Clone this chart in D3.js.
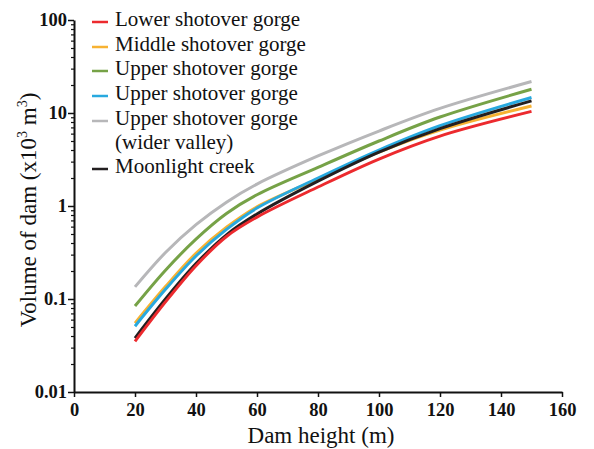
<!DOCTYPE html>
<html>
<head>
<meta charset="utf-8">
<script src="https://cdn.jsdelivr.net/npm/d3@7"></script>
<style>
  html, body { margin: 0; padding: 0; background: #fff; }
  svg { display: block; }
  text { font-family: "Liberation Serif", "Times New Roman", serif; fill: #111; }
</style>
</head>
<body>
<svg id="chart" width="594" height="449"></svg>
<script>
// ---- data ----
const heights = [20, 30, 40, 50, 60, 80, 100, 120, 150];
const seriesNames = [
  "Lower shotover gorge",
  "Middle shotover gorge",
  "Upper shotover gorge",
  "Upper shotover gorge",
  "Upper shotover gorge (wider valley)",
  "Moonlight creek"
];
const lowerShotover   = [0.035, 0.093, 0.228, 0.47, 0.76, 1.6, 3.2, 5.65, 10.4];
const middleShotover  = [0.055, 0.136, 0.31, 0.59, 0.98, 1.95, 3.8, 6.55, 11.9];
const upperShotoverG  = [0.084, 0.204, 0.44, 0.83, 1.32, 2.6, 5.0, 9.05, 18];
const upperShotoverB  = [0.051, 0.127, 0.29, 0.56, 0.95, 2.0, 4.0, 7.3, 14.7];
const upperWider      = [0.135, 0.316, 0.63, 1.1, 1.72, 3.45, 6.4, 11.2, 21.8];
const moonlightCreek  = [0.038, 0.10, 0.24, 0.49, 0.82, 1.85, 3.8, 6.8, 13.5];
const seriesColors = ["#ec2a2e", "#f7b232", "#76a247", "#28a9df", "#b7b7b9", "#231f20"];
const xTicks = [0, 20, 40, 60, 80, 100, 120, 140, 160];
const yTicks = [0.01, 0.1, 1, 10, 100];
const yTickLabels = ["0.01", "0.1", "1", "10", "100"];

const allSeries = [lowerShotover, middleShotover, upperShotoverG, upperShotoverB, upperWider, moonlightCreek];
const drawOrder = [4, 2, 1, 3, 5, 0];

const svg = d3.select("#chart");
const x = d3.scaleLinear().domain([0, 160]).range([74, 562]);
const y = d3.scaleLog().domain([0.01, 100]).range([392, 20]);

// minor y ticks
const minor = [];
for (let e = -2; e < 2; e++) for (let m = 2; m <= 9; m++) minor.push(m * Math.pow(10, e));
svg.append("g").attr("transform", "translate(74,0)")
  .call(d3.axisLeft(y).tickValues(minor).tickSize(3).tickFormat(""))
  .call(g => g.select(".domain").remove())
  .call(g => g.selectAll("line").attr("stroke", "#111").attr("stroke-width", 1.2));

// y axis
svg.append("g").attr("transform", "translate(74,0)")
  .call(d3.axisLeft(y).tickValues(yTicks).tickSize(6).tickSizeOuter(0).tickPadding(1)
        .tickFormat((d, i) => yTickLabels[i]))
  .call(g => g.select(".domain").attr("stroke", "#111").attr("stroke-width", 2))
  .call(g => g.selectAll(".tick line").attr("stroke", "#111").attr("stroke-width", 1.5))
  .call(g => g.selectAll("text").attr("font-family", "Liberation Serif").attr("font-weight", "bold")
        .attr("font-size", 18.5).attr("fill", "#111"));

// x axis
svg.append("g").attr("transform", "translate(0,392)")
  .call(d3.axisBottom(x).tickValues(xTicks).tickSize(5).tickSizeOuter(0).tickPadding(6))
  .call(g => g.select(".domain").attr("stroke", "#111").attr("stroke-width", 2))
  .call(g => g.selectAll(".tick line").attr("stroke", "#111").attr("stroke-width", 1.5))
  .call(g => g.selectAll("text").attr("font-family", "Liberation Serif").attr("font-weight", "bold")
        .attr("font-size", 18.5).attr("fill", "#111"));

// lines
const line = d3.line()
  .x((d, i) => x(heights[i]))
  .y(d => y(d))
  .curve(d3.curveCatmullRom.alpha(0.5));
drawOrder.forEach(k => {
  svg.append("path")
    .attr("d", line(allSeries[k]))
    .attr("fill", "none")
    .attr("stroke", seriesColors[k])
    .attr("stroke-width", 3);
});

// legend
const legendBase = [26, 51, 75, 100, 125, 173];
const lg = svg.append("g");
seriesNames.forEach((name, i) => {
  const by = legendBase[i];
  lg.append("line").attr("x1", 92).attr("x2", 108)
    .attr("y1", by - 4).attr("y2", by - 4)
    .attr("stroke", seriesColors[i]).attr("stroke-width", 2.5);
  if (name.includes("(wider valley)")) {
    lg.append("text").attr("x", 115).attr("y", by).attr("font-size", 21).text("Upper shotover gorge");
    lg.append("text").attr("x", 115).attr("y", by + 23.5).attr("font-size", 21).text("(wider valley)");
  } else {
    lg.append("text").attr("x", 115).attr("y", by).attr("font-size", 21).text(name);
  }
});

// axis titles
svg.append("text")
  .attr("x", 321).attr("y", 443)
  .attr("text-anchor", "middle")
  .attr("font-size", 23)
  .text("Dam height (m)");

const yl = svg.append("text")
  .attr("transform", "translate(36,210) rotate(-90)")
  .attr("text-anchor", "middle")
  .attr("font-size", 23);
yl.append("tspan").text("Volume of dam (x10");
yl.append("tspan").attr("font-size", 14).attr("dy", -9).text("3");
yl.append("tspan").attr("dy", 9).text(" m");
yl.append("tspan").attr("font-size", 14).attr("dy", -9).text("3");
yl.append("tspan").attr("dy", 9).text(")");
</script>
</body>
</html>
